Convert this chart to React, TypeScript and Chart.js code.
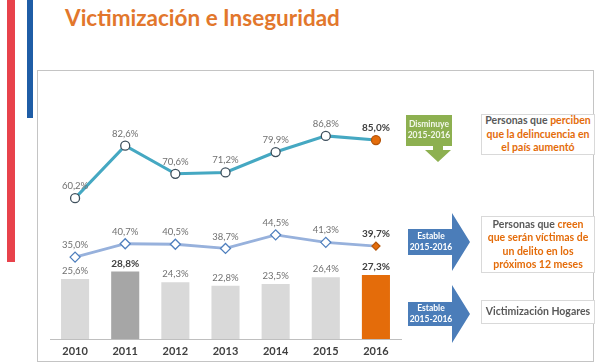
import React, { useEffect, useRef } from "react";
import { Chart, registerables } from "chart.js";

Chart.register(...registerables);

const years = ["2010", "2011", "2012", "2013", "2014", "2015", "2016"];
const perceiveIncrease = [60.2, 82.6, 70.6, 71.2, 79.9, 86.8, 85.0];
const expectVictim = [35.0, 40.7, 40.5, 38.7, 44.5, 41.3, 39.7];
const householdVictim = [25.6, 28.8, 24.3, 22.8, 23.5, 26.4, 27.3];
const boldLine1 = [6];
const boldLine2 = [6];
const boldBars = [1, 6];

const ORANGE = "#E46C0A";
const GRAY_TEXT = "#595959";

const fmt = (v: number) => v.toFixed(1).replace(".", ",") + "%";

const labelPlugin = {
  id: "valueLabels",
  afterDatasetsDraw(chart: any) {
    const ctx = chart.ctx;
    const cfg = [
      { bold: boldLine1, off: 12 },
      { bold: boldLine2, off: 12 },
      { bold: boldBars, off: 8 },
    ];
    chart.data.datasets.forEach((ds: any, di: number) => {
      const meta = chart.getDatasetMeta(di);
      meta.data.forEach((el: any, i: number) => {
        const isBold = cfg[di].bold.includes(i);
        ctx.save();
        ctx.font = (isBold ? "bold 10px " : "9.5px ") + "Lato";
        ctx.fillStyle = isBold ? "#404040" : "#707070";
        ctx.textAlign = "center";
        ctx.textBaseline = "middle";
        ctx.fillText(fmt(ds.data[i]), el.x, el.y - cfg[di].off);
        ctx.restore();
      });
    });
  },
};

function ChartCanvas() {
  const ref = useRef<HTMLCanvasElement>(null);
  useEffect(() => {
    if (!ref.current) return;
    const n = years.length;
    const chart = new Chart(ref.current, {
      data: {
        labels: years,
        datasets: [
          {
            type: "line",
            data: perceiveIncrease,
            borderColor: "#45A8C2",
            borderWidth: 3,
            pointRadius: 4.5,
            pointBackgroundColor: perceiveIncrease.map((_, i) => (i === n - 1 ? ORANGE : "#ffffff")),
            pointBorderColor: perceiveIncrease.map((_, i) => (i === n - 1 ? "#B5550A" : "#3E4F5C")),
            pointBorderWidth: 1.3,
            order: 1,
          },
          {
            type: "line",
            data: expectVictim,
            borderColor: "#97B1DC",
            borderWidth: 2.8,
            pointStyle: "rectRot",
            pointRadius: expectVictim.map((_, i) => (i === n - 1 ? 4 : 5)),
            pointBackgroundColor: expectVictim.map((_, i) => (i === n - 1 ? ORANGE : "#ffffff")),
            pointBorderColor: expectVictim.map((_, i) => (i === n - 1 ? "#B5550A" : "#4F7FBD")),
            pointBorderWidth: 1.3,
            order: 2,
          },
          {
            type: "bar",
            data: householdVictim,
            backgroundColor: householdVictim.map((_, i) =>
              i === n - 1 ? ORANGE : i === 1 ? "#A6A6A6" : "#D9D9D9"
            ),
            barPercentage: 0.56,
            categoryPercentage: 1,
            order: 3,
          },
        ],
      } as any,
      options: {
        animation: false,
        responsive: false,
        devicePixelRatio: 1,
        layout: { padding: { left: 10, right: 9, top: 34, bottom: 0 } },
        plugins: { legend: { display: false }, tooltip: { enabled: false } },
        scales: {
          x: {
            offset: true,
            grid: { display: false, drawTicks: false },
            border: { display: true, color: "#BFBFBF", width: 1 },
            ticks: {
              color: "#404040",
              font: { family: "Lato", weight: "bold", size: 11 },
              padding: 6,
            },
            afterFit: (s: any) => {
              s.height = 22;
            },
          },
          y: { display: false, min: 0, max: 100 },
        },
      } as any,
      plugins: [labelPlugin],
    });
    return () => chart.destroy();
  }, []);
  return (
    <canvas
      ref={ref}
      width={370}
      height={290}
      style={{ position: "absolute", left: 40, top: 71, width: 370, height: 290 }}
    />
  );
}

const boxStyle: React.CSSProperties = {
  position: "absolute",
  left: 481,
  width: 114,
  border: "1px solid #D9D9D9",
  background: "#fff",
  boxSizing: "border-box",
  display: "flex",
  alignItems: "center",
  justifyContent: "center",
  textAlign: "center",
  fontFamily: "Lato",
  fontWeight: "bold",
  fontSize: 10.5,
  lineHeight: "13.5px",
  color: GRAY_TEXT,
};

const arrowText: React.CSSProperties = {
  position: "absolute",
  fontFamily: "Lato",
  fontWeight: "bold",
  fontSize: 8.5,
  lineHeight: "11px",
  color: "#ffffff",
  textAlign: "center",
  whiteSpace: "nowrap",
};

export default function App() {
  return (
    <div
      style={{
        position: "absolute",
        left: 0,
        top: 0,
        width: 600,
        height: 364,
        overflow: "hidden",
        background: "#ffffff",
      }}
    >
      <div style={{ position: "absolute", left: 7, top: 0, width: 8, height: 262, background: "#E8424B" }} />
      <div style={{ position: "absolute", left: 27, top: 0, width: 6, height: 118, background: "#1F5DA6" }} />
      <div
        style={{
          position: "absolute",
          left: 65,
          top: 4,
          fontFamily: "Lato",
          fontWeight: "bold",
          fontSize: 22.5,
          color: "#E2772C",
          whiteSpace: "nowrap",
        }}
      >
        Victimización e Inseguridad
      </div>
      <div
        style={{
          position: "absolute",
          left: 37,
          top: 70,
          width: 557,
          height: 292,
          border: "1px solid #C4C4C4",
          boxSizing: "border-box",
        }}
      />
      <ChartCanvas />
      <svg width={600} height={364} style={{ position: "absolute", left: 0, top: 0 }}>
        <polygon
          points="406,115 452,115 452,146 443,146 443,150 451,150 438,162 425,150 433,150 433,146 406,146"
          fill="#8DB050"
        />
        <polygon points="408,229 452,229 452,213 470,242 452,271 452,255 408,255" fill="#4B7DB9" />
        <polygon points="408,302 452,302 452,285 470,314 452,343 452,326 408,326" fill="#4B7DB9" />
      </svg>
      <div style={{ ...arrowText, left: 406, top: 119, width: 46, color: "#F2F7EA" }}>
        Disminuye
        <br />
        2015-2016
      </div>
      <div style={{ ...arrowText, left: 408, top: 231, width: 46 }}>
        Estable
        <br />
        2015-2016
      </div>
      <div style={{ ...arrowText, left: 408, top: 303, width: 46 }}>
        Estable
        <br />
        2015-2016
      </div>
      <div style={{ ...boxStyle, top: 114, height: 41 }}>
        <span>
          Personas que <span style={{ color: ORANGE }}>perciben</span>
          <br />
          <span style={{ color: ORANGE }}>que la delincuencia en</span>
          <br />
          <span style={{ color: ORANGE }}>el país aumentó</span>
        </span>
      </div>
      <div style={{ ...boxStyle, top: 216, height: 57 }}>
        <span>
          Personas que <span style={{ color: ORANGE }}>creen</span>
          <br />
          <span style={{ color: ORANGE }}>que serán víctimas de</span>
          <br />
          <span style={{ color: ORANGE }}>un delito en los</span>
          <br />
          <span style={{ color: ORANGE }}>próximos 12 meses</span>
        </span>
      </div>
      <div style={{ ...boxStyle, top: 300, height: 24 }}>Victimización Hogares</div>
    </div>
  );
}
